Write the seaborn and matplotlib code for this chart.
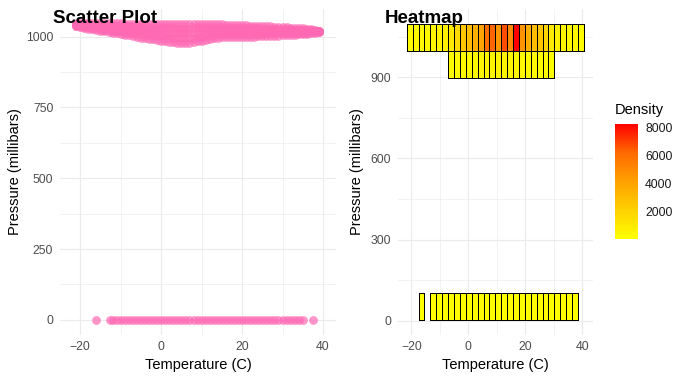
import numpy as np
import pandas as pd
import matplotlib
matplotlib.use("Agg")
import matplotlib.pyplot as plt
import seaborn as sns
from matplotlib.colors import LinearSegmentedColormap
from matplotlib.ticker import FixedLocator

# ---------------- data ----------------
# Scatter: dense band near 1000-1050 mb, columns per temperature
band_temp = list(range(-21, 40))
band_top = [1046, 1047, 1048, 1048, 1048, 1048, 1047, 1047, 1047, 1047, 1047, 1047,
            1046, 1046, 1046, 1046, 1046, 1046, 1046, 1046, 1046, 1045, 1045, 1045,
            1045, 1045, 1045, 1045, 1045, 1045, 1045, 1044, 1044, 1044, 1044, 1043,
            1043, 1042, 1042, 1041, 1041, 1040, 1040, 1039, 1039, 1038, 1037, 1036,
            1036, 1035, 1034, 1034, 1033, 1032, 1031, 1030, 1029, 1028, 1026, 1024, 1020]
band_upper = [1044, 1044, 1044, 1043, 1042, 1042, 1040, 1040, 1039, 1038, 1038, 1037,
              1036, 1036, 1035, 1034, 1034, 1033, 1032, 1032, 1031, 1030, 1030, 1029,
              1029, 1028, 1028, 1028, 1028, 1029, 1029, 1030, 1030, 1031, 1032, 1031,
              1032, 1031, 1031, 1030, 1031, 1030, 1030, 1029, 1029, 1029, 1028, 1028,
              1028, 1027, 1026, 1026, 1026, 1026, 1025, 1024, 1024, 1024, 1022, 1021, 1019]
band_mid = [1041, 1040, 1040, 1038, 1037, 1036, 1034, 1032, 1031, 1030, 1029, 1028,
            1026, 1025, 1024, 1022, 1021, 1020, 1019, 1018, 1017, 1015, 1014, 1013,
            1012, 1012, 1011, 1011, 1011, 1012, 1014, 1015, 1016, 1018, 1019, 1019,
            1020, 1020, 1020, 1020, 1020, 1020, 1020, 1020, 1020, 1020, 1019, 1019,
            1019, 1019, 1018, 1019, 1019, 1019, 1019, 1019, 1019, 1019, 1018, 1018, 1018]
band_lower = [1038, 1037, 1035, 1033, 1032, 1030, 1028, 1025, 1023, 1021, 1020, 1018,
              1017, 1015, 1013, 1011, 1008, 1007, 1005, 1004, 1002, 1001, 999, 998,
              996, 995, 995, 994, 995, 996, 998, 1000, 1003, 1005, 1006, 1008,
              1008, 1009, 1010, 1010, 1010, 1010, 1010, 1010, 1010, 1010, 1010, 1011,
              1011, 1011, 1011, 1012, 1012, 1012, 1013, 1014, 1014, 1014, 1015, 1016, 1017]
band_bottom = [1036, 1034, 1031, 1028, 1026, 1024, 1021, 1018, 1015, 1013, 1011, 1009,
               1007, 1005, 1002, 999, 996, 994, 992, 990, 988, 986, 984, 982,
               980, 979, 978, 977, 978, 980, 983, 986, 989, 992, 994, 996,
               997, 998, 999, 999, 1000, 1000, 1000, 1000, 1000, 1001, 1001, 1002,
               1002, 1003, 1003, 1004, 1005, 1006, 1007, 1008, 1009, 1010, 1011, 1013, 1016]
# Scatter: readings recorded as 0 mb
zero_temp = [-16, -12.7, -12, -11, -10, -9, -8, -7, -6, -5, -4, -3, -2, -1, 0,
             1, 2, 3, 4, 5, 6, 7, 8, 9, 10, 11, 12, 13, 14, 15, 16, 17, 18, 19, 20,
             21, 22, 23, 24, 25, 26, 27, 28, 29, 30, 31, 32, 33, 34, 35, 37.5]

# Heatmap: counts per 2-D bin (30 temperature bins)
top_row_counts = [200, 250, 300, 350, 450, 550, 700, 1000, 1700, 2500, 3000, 3500,
                  4000, 6000, 6200, 4500, 6700, 5000, 8170, 4600, 3600, 3000, 2500,
                  1900, 1000, 650, 450, 350, 250, 150]
mid_row_first_bin = 7
mid_row_counts = [150, 200, 250, 300, 350, 400, 450, 500, 500, 500, 450, 400, 350,
                  300, 250, 200, 150, 100]
low_row_counts = [0, 0, 1, 0, 20, 30, 40, 50, 60, 70, 80, 80, 80, 80, 80, 80, 80,
                  80, 80, 70, 70, 60, 60, 50, 40, 30, 20, 10, 5, 0]

temp_bin_origin, temp_bin_width, n_temp_bins = -21.57, 2.07, 30
pres_bin_origin, pres_bin_width, n_pres_bins = 2.6, 99.5, 11

density_ticks = [2000, 4000, 6000, 8000]

# ---------------- style ----------------
sns.set_theme(style="white")
plt.rcParams["font.family"] = ["Liberation Sans", "DejaVu Sans"]

GRID = "#EBEBEB"
PINK = "#FF69B4"
TICK_COLOR = "#4D4D4D"

fig = plt.figure(figsize=(6.87, 3.8), dpi=100)
ax1 = fig.add_axes([0.0873, 0.1192, 0.4017, 0.8566])
ax2 = fig.add_axes([0.5792, 0.1192, 0.2836, 0.8566])
cax = fig.add_axes([0.8952, 0.3710, 0.0330, 0.3019])

# ---------------- scatter ----------------
scat = pd.DataFrame({
    "temp": band_temp * 5 + zero_temp,
    "pres": band_top + band_upper + band_mid + band_lower + band_bottom + [0] * len(zero_temp),
})
sns.scatterplot(data=scat, x="temp", y="pres", color=PINK, alpha=0.7, s=40,
                linewidth=0, ax=ax1)
ax1.set_xlim(-25.0, 43.2)
ax1.set_ylim(-52.2, 1096.7)
ax1.xaxis.set_major_locator(FixedLocator([-20, 0, 20, 40]))
ax1.xaxis.set_minor_locator(FixedLocator([-10, 10, 30]))
ax1.yaxis.set_major_locator(FixedLocator([0, 250, 500, 750, 1000]))
ax1.yaxis.set_minor_locator(FixedLocator([125, 375, 625, 875]))

# ---------------- heatmap ----------------
x_edges = temp_bin_origin + temp_bin_width * np.arange(n_temp_bins + 1)
y_edges = pres_bin_origin + pres_bin_width * np.arange(n_pres_bins + 1)
xc = (x_edges[:-1] + x_edges[1:]) / 2
yc = (y_edges[:-1] + y_edges[1:]) / 2
rows = []
for i, c in enumerate(top_row_counts):
    rows.append((xc[i], yc[10], c))
for j, c in enumerate(mid_row_counts):
    rows.append((xc[mid_row_first_bin + j], yc[9], c))
for i, c in enumerate(low_row_counts):
    if c > 0:
        rows.append((xc[i], yc[0], c))
heat = pd.DataFrame(rows, columns=["temp", "pres", "count"])

cmap = LinearSegmentedColormap.from_list(
    "yr", ["#FFFF00", "#FFD100", "#FFA100", "#FF6B00", "#FF0000"])
sns.histplot(data=heat, x="temp", y="pres", weights="count",
             bins=(x_edges, y_edges), cmap=cmap, vmin=1, vmax=8200,
             ax=ax2, cbar=True, cbar_ax=cax)
mesh = ax2.collections[0]
mask = np.ma.getmaskarray(mesh.get_array()).ravel()
ec = np.zeros((mask.size, 4))
ec[~mask] = (0, 0, 0, 1)
mesh.set_edgecolor(ec)
mesh.set_linewidth(0.6)

ax2.set_xlim(-24.68, 43.64)
ax2.set_ylim(-52.1, 1151.8)
ax2.xaxis.set_major_locator(FixedLocator([-20, 0, 20, 40]))
ax2.xaxis.set_minor_locator(FixedLocator([-10, 10, 30]))
ax2.yaxis.set_major_locator(FixedLocator([0, 300, 600, 900]))
ax2.yaxis.set_minor_locator(FixedLocator([150, 450, 750, 1050]))

for ax in (ax1, ax2):
    ax.set_xlabel("")
    ax.set_ylabel("")
    for s in ax.spines.values():
        s.set_visible(False)
    ax.set_axisbelow(True)
    ax.grid(True, which="major", color=GRID, linewidth=0.85)
    ax.grid(True, which="minor", color=GRID, linewidth=0.45)
    ax.tick_params(which="both", length=0)
    ax.tick_params(axis="x", labelsize=8.8, labelcolor=TICK_COLOR, pad=4.5)
    ax.tick_params(axis="y", labelsize=8.8, labelcolor=TICK_COLOR, pad=4.8)

# colorbar styling
cbar = mesh.colorbar
cbar.outline.set_visible(False)
cbar.set_ticks(density_ticks)
cax.yaxis.set_ticks_position("both")
cax.tick_params(axis="y", which="major", direction="in", length=3.3, width=0.9,
                color="white", labelcolor="#1A1A1A", labelsize=8.8, pad=5.3,
                left=True, right=True, labelleft=False, labelright=True)
cax.tick_params(axis="y", which="minor", length=0)

# ---------------- texts ----------------
fig.text(53.3 / 687, 1 - 22.7 / 380, "Scatter Plot", fontsize=13.5, color="black",
         fontweight="bold", va="baseline", ha="left", zorder=10)
fig.text(385 / 687, 1 - 22.7 / 380, "Heatmap", fontsize=13.5, color="black",
         fontweight="bold", va="baseline", ha="left", zorder=10)
fig.text(198 / 687, 1 - 365.5 / 380, "Temperature (C)", fontsize=10.5,
         color="black", ha="center", va="center")
fig.text(495.2 / 687, 1 - 365.5 / 380, "Temperature (C)", fontsize=10.5,
         color="black", ha="center", va="center")
fig.text(15 / 687, 1 - 172 / 380, "Pressure (millibars)", fontsize=10.5,
         color="black", rotation=90, ha="center", va="center")
fig.text(357 / 687, 1 - 172 / 380, "Pressure (millibars)", fontsize=10.5,
         color="black", rotation=90, ha="center", va="center")
fig.text(615 / 687, 1 - 114 / 380, "Density", fontsize=10.5, color="black",
         ha="left", va="baseline")

fig.savefig("out.png", dpi=100)
